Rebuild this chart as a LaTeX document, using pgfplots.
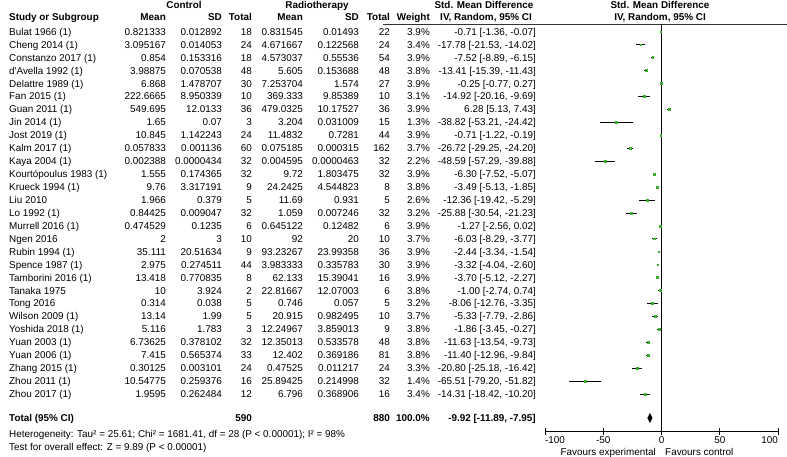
\documentclass[border=0pt]{standalone}
\usepackage{fontspec}
\setmainfont{Liberation Sans}
\usepackage{pgfplots}
\pgfplotsset{compat=1.18}
\usepackage{pgfplotstable}

\definecolor{fgreen}{RGB}{60,175,50}
\newcommand\f{\fontsize{9.9}{12}\selectfont}

% study estimates: SMD with 95% CI, weight in %
\pgfplotstableread{
row est lo hi w
1 -0.71 -1.36 -0.07 3.9
2 -17.78 -21.53 -14.02 3.4
3 -7.52 -8.89 -6.15 3.9
4 -13.41 -15.39 -11.43 3.8
5 -0.25 -0.77 0.27 3.9
6 -14.92 -20.16 -9.69 3.1
7 6.28 5.13 7.43 3.9
8 -38.82 -53.21 -24.42 1.3
9 -0.71 -1.22 -0.19 3.9
10 -26.72 -29.25 -24.20 3.7
11 -48.59 -57.29 -39.88 2.2
12 -6.30 -7.52 -5.07 3.9
13 -3.49 -5.13 -1.85 3.8
14 -12.36 -19.42 -5.29 2.6
15 -25.88 -30.54 -21.23 3.2
16 -1.27 -2.56 0.02 3.9
17 -6.03 -8.29 -3.77 3.7
18 -2.44 -3.34 -1.54 3.9
19 -3.32 -4.04 -2.60 3.9
20 -3.70 -5.12 -2.27 3.9
21 -1.00 -2.74 0.74 3.8
22 -8.06 -12.76 -3.35 3.2
23 -5.33 -7.79 -2.86 3.7
24 -1.86 -3.45 -0.27 3.8
25 -11.63 -13.54 -9.73 3.8
26 -11.40 -12.96 -9.84 3.8
27 -20.80 -25.18 -16.42 3.3
28 -65.51 -79.20 -51.82 1.4
29 -14.31 -18.42 -10.20 3.4
}\forest

\newcounter{rr}
\newcommand\rowtext[9]{%
  \stepcounter{rr}%
  \pgfmathsetmacro\yy{-(31.7+12.94*(\therr-1))}%
  \node[anchor=west] at (9,\yy) {#1};
  \node[anchor=east] at (166,\yy) {#2};
  \node[anchor=east] at (222,\yy) {#3};
  \node[anchor=east] at (252,\yy) {#4};
  \node[anchor=east] at (303,\yy) {#5};
  \node[anchor=east] at (359,\yy) {#6};
  \node[anchor=east] at (390,\yy) {#7};
  \node[anchor=east] at (430,\yy) {#8};
  \node[anchor=east] at (536,\yy) {#9};
}

\begin{document}
\begin{tikzpicture}[x=1pt, y=1pt,
  every node/.style={font=\f, inner sep=0pt, text height=7.1pt, text depth=0pt}]
\useasboundingbox (0,0) rectangle (787,-457);

\begin{axis}[
  at={(545pt,-431pt)}, anchor=south west,
  scale only axis, width=233pt, height=407pt,
  xmin=-100, xmax=100,
  ymin=0.405, ymax=31.857, y dir=reverse,
  axis x line*=bottom, axis y line=none,
  xtick={-100,-50,0,50,100},
  xticklabels={\makebox[0pt][l]{-100},-50,0,50,\makebox[0pt][r]{100}},
  xticklabel style={font=\f, inner sep=0pt, anchor=north, text height=7.1pt, text depth=0pt, yshift=-1.5pt},
  tick align=center, major tick length=7pt,
  every tick/.style={black, line width=0.6pt},
  axis line style={black, line width=0.6pt},
  clip=false,
]
\addplot[only marks, mark=square*, mark size=0.9pt,
  mark options={draw=fgreen, fill=fgreen},
  error bars/.cd, x dir=both, x explicit, error mark=none,
  error bar style={black, line width=0.7pt}]
  table[x=est, y=row,
    x error minus expr=\thisrow{est}-\thisrow{lo},
    x error plus expr=\thisrow{hi}-\thisrow{est}] {\forest};
% overall effect -9.92 [-11.89, -7.95]
\addplot[fill=black, draw=black] coordinates {
  (-11.89,30.853) (-9.92,30.5) (-7.95,30.853) (-9.92,31.2)} -- cycle;
\draw[black, line width=0.6pt] (axis cs:0,0.405) -- (axis cs:0,31.857);
\end{axis}

\draw[black!80, line width=0.6pt] (383,-24) -- (787,-24);

% headers
\node at (184,-5) {\bfseries Control};
\node at (317,-5) {\bfseries Radiotherapy};
\node at (484,-5) {\bfseries Std. Mean Difference};
\node at (660,-5) {\bfseries Std. Mean Difference};
\node[anchor=west] at (9,-16.7) {\bfseries Study or Subgroup};
\node[anchor=east] at (166,-16.7) {\bfseries Mean};
\node[anchor=east] at (222,-16.7) {\bfseries SD};
\node[anchor=east] at (252,-16.7) {\bfseries Total};
\node[anchor=east] at (303,-16.7) {\bfseries Mean};
\node[anchor=east] at (359,-16.7) {\bfseries SD};
\node[anchor=east] at (390,-16.7) {\bfseries Total};
\node[anchor=east] at (430,-16.7) {\bfseries Weight};
\node at (486,-16.7) {\bfseries IV, Random, 95\% CI};
\node at (660,-16.7) {\bfseries IV, Random, 95\% CI};

\rowtext{Bulat 1966 (1)}{0.821333}{0.012892}{18}{0.831545}{0.01493}{22}{3.9\%}{-0.71 [-1.36, -0.07]}
\rowtext{Cheng 2014 (1)}{3.095167}{0.014053}{24}{4.671667}{0.122568}{24}{3.4\%}{-17.78 [-21.53, -14.02]}
\rowtext{Constanzo 2017 (1)}{0.854}{0.153316}{18}{4.573037}{0.55536}{54}{3.9\%}{-7.52 [-8.89, -6.15]}
\rowtext{d\textquotesingle Avella 1992 (1)}{3.98875}{0.070538}{48}{5.605}{0.153688}{48}{3.8\%}{-13.41 [-15.39, -11.43]}
\rowtext{Delattre 1989 (1)}{6.868}{1.478707}{30}{7.253704}{1.574}{27}{3.9\%}{-0.25 [-0.77, 0.27]}
\rowtext{Fan 2015 (1)}{222.6665}{8.950339}{10}{369.333}{9.85389}{10}{3.1\%}{-14.92 [-20.16, -9.69]}
\rowtext{Guan 2011 (1)}{549.695}{12.0133}{36}{479.0325}{10.17527}{36}{3.9\%}{6.28 [5.13, 7.43]}
\rowtext{Jin 2014 (1)}{1.65}{0.07}{3}{3.204}{0.031009}{15}{1.3\%}{-38.82 [-53.21, -24.42]}
\rowtext{Jost 2019 (1)}{10.845}{1.142243}{24}{11.4832}{0.7281}{44}{3.9\%}{-0.71 [-1.22, -0.19]}
\rowtext{Kalm 2017 (1)}{0.057833}{0.001136}{60}{0.075185}{0.000315}{162}{3.7\%}{-26.72 [-29.25, -24.20]}
\rowtext{Kaya 2004 (1)}{0.002388}{0.0000434}{32}{0.004595}{0.0000463}{32}{2.2\%}{-48.59 [-57.29, -39.88]}
\rowtext{Kourtópoulus 1983 (1)}{1.555}{0.174365}{32}{9.72}{1.803475}{32}{3.9\%}{-6.30 [-7.52, -5.07]}
\rowtext{Krueck 1994 (1)}{9.76}{3.317191}{9}{24.2425}{4.544823}{8}{3.8\%}{-3.49 [-5.13, -1.85]}
\rowtext{Liu 2010}{1.966}{0.379}{5}{11.69}{0.931}{5}{2.6\%}{-12.36 [-19.42, -5.29]}
\rowtext{Lo 1992 (1)}{0.84425}{0.009047}{32}{1.059}{0.007246}{32}{3.2\%}{-25.88 [-30.54, -21.23]}
\rowtext{Murrell 2016 (1)}{0.474529}{0.1235}{6}{0.645122}{0.12482}{6}{3.9\%}{-1.27 [-2.56, 0.02]}
\rowtext{Ngen 2016}{2}{3}{10}{92}{20}{10}{3.7\%}{-6.03 [-8.29, -3.77]}
\rowtext{Rubin 1994 (1)}{35.111}{20.51634}{9}{93.23267}{23.99358}{36}{3.9\%}{-2.44 [-3.34, -1.54]}
\rowtext{Spence 1987 (1)}{2.975}{0.274511}{44}{3.983333}{0.335783}{30}{3.9\%}{-3.32 [-4.04, -2.60]}
\rowtext{Tamborini 2016 (1)}{13.418}{0.770835}{8}{62.133}{15.39041}{16}{3.9\%}{-3.70 [-5.12, -2.27]}
\rowtext{Tanaka 1975}{10}{3.924}{2}{22.81667}{12.07003}{6}{3.8\%}{-1.00 [-2.74, 0.74]}
\rowtext{Tong 2016}{0.314}{0.038}{5}{0.746}{0.057}{5}{3.2\%}{-8.06 [-12.76, -3.35]}
\rowtext{Wilson 2009 (1)}{13.14}{1.99}{5}{20.915}{0.982495}{10}{3.7\%}{-5.33 [-7.79, -2.86]}
\rowtext{Yoshida 2018 (1)}{5.116}{1.783}{3}{12.24967}{3.859013}{9}{3.8\%}{-1.86 [-3.45, -0.27]}
\rowtext{Yuan 2003 (1)}{6.73625}{0.378102}{32}{12.35013}{0.533578}{48}{3.8\%}{-11.63 [-13.54, -9.73]}
\rowtext{Yuan 2006 (1)}{7.415}{0.565374}{33}{12.402}{0.369186}{81}{3.8\%}{-11.40 [-12.96, -9.84]}
\rowtext{Zhang 2015 (1)}{0.30125}{0.003101}{24}{0.47525}{0.011217}{24}{3.3\%}{-20.80 [-25.18, -16.42]}
\rowtext{Zhou 2011 (1)}{10.54775}{0.259376}{16}{25.89425}{0.214998}{32}{1.4\%}{-65.51 [-79.20, -51.82]}
\rowtext{Zhou 2017 (1)}{1.9595}{0.262484}{12}{6.796}{0.368906}{16}{3.4\%}{-14.31 [-18.42, -10.20]}

% total row
\node[anchor=west] at (9,-418) {\bfseries Total (95\% CI)};
\node[anchor=east] at (252,-418) {\bfseries 590};
\node[anchor=east] at (390,-418) {\bfseries 880};
\node[anchor=east] at (430,-418) {\bfseries 100.0\%};
\node[anchor=east] at (536,-418) {\bfseries -9.92 [-11.89, -7.95]};
\node[anchor=west] at (9,-433.5) {Heterogeneity: Tau² = 25.61; Chi² = 1681.41, df = 28 (P < 0.00001); I² = 98\%};
\node[anchor=west] at (9,-446.5) {Test for overall effect: Z = 9.89 (P < 0.00001)};

\node[anchor=east] at (656,-452) {Favours experimental};
\node[anchor=west] at (665,-452) {Favours control};
\end{tikzpicture}
\end{document}
